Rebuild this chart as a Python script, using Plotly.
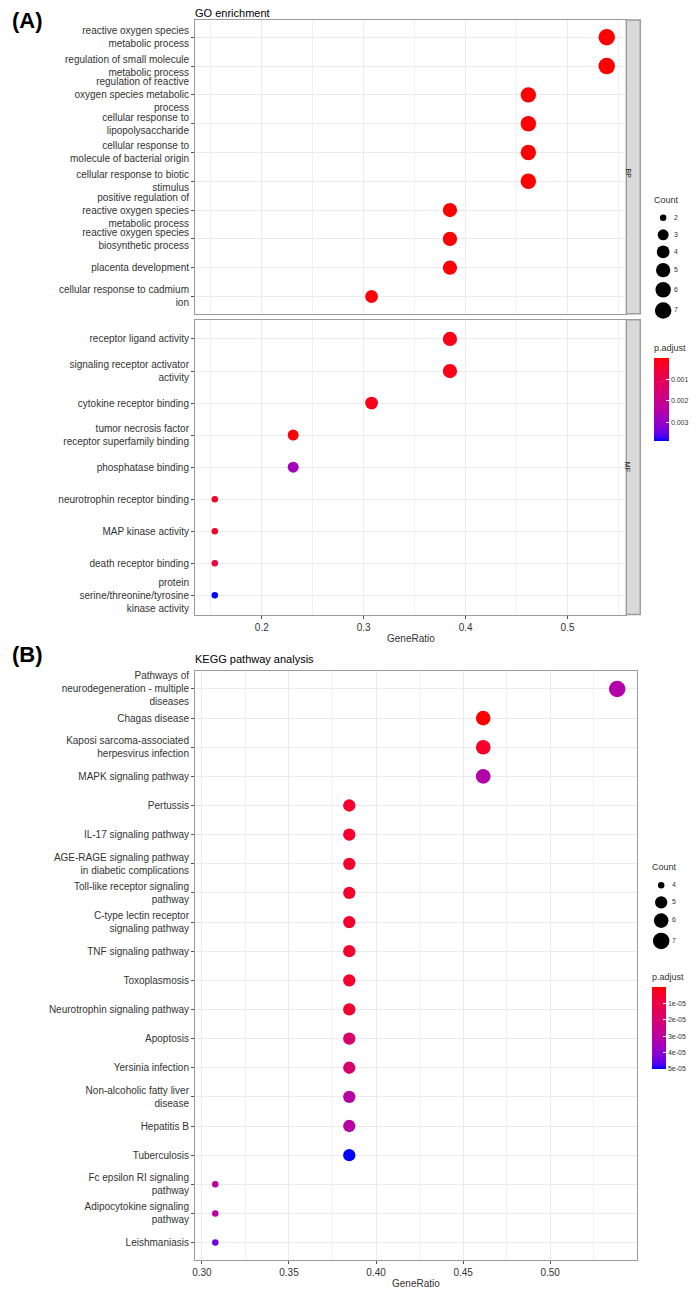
import plotly.graph_objects as go

W, H = 700, 1296          # browser window
OFF = 8                   # default page body margin
FW, FH = W - OFF, H - OFF  # figure size
FONT = "Liberation Sans, Arial, sans-serif"

# ---------------- data ----------------
bp_terms = [
    "reactive oxygen species\nmetabolic process",
    "regulation of small molecule\nmetabolic process",
    "regulation of reactive\noxygen species metabolic\nprocess",
    "cellular response to\nlipopolysaccharide",
    "cellular response to\nmolecule of bacterial origin",
    "cellular response to biotic\nstimulus",
    "positive regulation of\nreactive oxygen species\nmetabolic process",
    "reactive oxygen species\nbiosynthetic process",
    "placenta development",
    "cellular response to cadmium\nion",
]
bp_ratio = [7/13, 7/13, 6/13, 6/13, 6/13, 6/13, 5/13, 5/13, 5/13, 4/13]
bp_count = [7, 7, 6, 6, 6, 6, 5, 5, 5, 4]
bp_padj = [2e-6, 2e-6, 2e-5, 2e-5, 2e-5, 2e-5, 3e-5, 3e-5, 3e-5, 6e-5]

mf_terms = [
    "receptor ligand activity",
    "signaling receptor activator\nactivity",
    "cytokine receptor binding",
    "tumor necrosis factor\nreceptor superfamily binding",
    "phosphatase binding",
    "neurotrophin receptor binding",
    "MAP kinase activity",
    "death receptor binding",
    "protein\nserine/threonine/tyrosine\nkinase activity",
]
mf_ratio = [5/13, 5/13, 4/13, 3/13, 3/13, 2/13, 2/13, 2/13, 2/13]
mf_count = [5, 5, 4, 3, 3, 2, 2, 2, 2]
mf_padj = [2e-4, 2e-4, 2e-4, 6e-5, 2.75e-3, 3.5e-4, 3.5e-4, 6.5e-4, 3.87e-3]

kegg_terms = [
    "Pathways of\nneurodegeneration - multiple\ndiseases",
    "Chagas disease",
    "Kaposi sarcoma-associated\nherpesvirus infection",
    "MAPK signaling pathway",
    "Pertussis",
    "IL-17 signaling pathway",
    "AGE-RAGE signaling pathway\nin diabetic complications",
    "Toll-like receptor signaling\npathway",
    "C-type lectin receptor\nsignaling pathway",
    "TNF signaling pathway",
    "Toxoplasmosis",
    "Neurotrophin signaling pathway",
    "Apoptosis",
    "Yersinia infection",
    "Non-alcoholic fatty liver\ndisease",
    "Hepatitis B",
    "Tuberculosis",
    "Fc epsilon RI signaling\npathway",
    "Adipocytokine signaling\npathway",
    "Leishmaniasis",
]
kegg_ratio = [7/13, 6/13, 6/13, 6/13, 5/13, 5/13, 5/13, 5/13, 5/13, 5/13,
              5/13, 5/13, 5/13, 5/13, 5/13, 5/13, 5/13, 4/13, 4/13, 4/13]
kegg_count = [7, 6, 6, 6, 5, 5, 5, 5, 5, 5, 5, 5, 5, 5, 5, 5, 5, 4, 4, 4]
kegg_padj = [3.2e-5, 2e-7, 5.5e-6, 3.2e-5, 6e-6, 6e-6, 6e-6, 6e-6, 6e-6, 6e-6,
             6.5e-6, 6.5e-6, 1.9e-5, 1.9e-5, 3.1e-5, 3.1e-5, 5.02e-5, 3.0e-5, 3.0e-5, 4.4e-5]

go_xticks = [0.2, 0.3, 0.4, 0.5]
kegg_xticks = [0.30, 0.35, 0.40, 0.45, 0.50]
go_ticks = [0.001, 0.002, 0.003]
go_ticktext = ["0.001", "0.002", "0.003"]
kegg_ticks = [1e-5, 2e-5, 3e-5, 4e-5, 5e-5]
kegg_ticktext = ["1e-05", "2e-05", "3e-05", "4e-05", "5e-05"]


# ---------------- helpers ----------------
def fx(x):
    return (x - OFF) / FW


def fy(y):
    return 1 - (y - OFF) / FH


def _lin(c):
    c = c / 255
    return c / 12.92 if c <= 0.04045 else ((c + 0.055) / 1.055) ** 2.4


def rgb2lab(r, g, b):
    R, G, B = _lin(r), _lin(g), _lin(b)
    X = (0.4124 * R + 0.3576 * G + 0.1805 * B) / 0.95047
    Y = 0.2126 * R + 0.7152 * G + 0.0722 * B
    Z = (0.0193 * R + 0.1192 * G + 0.9505 * B) / 1.08883
    f = lambda t: t ** (1 / 3) if t > 0.008856 else 7.787 * t + 16 / 116
    a, b_, c = f(X), f(Y), f(Z)
    return 116 * b_ - 16, 500 * (a - b_), 200 * (b_ - c)


def lab2rgb(L, a, b):
    fy_ = (L + 16) / 116
    fx_ = fy_ + a / 500
    fz_ = fy_ - b / 200
    finv = lambda t: t ** 3 if t ** 3 > 0.008856 else (t - 16 / 116) / 7.787
    X = finv(fx_) * 0.95047
    Y = finv(fy_)
    Z = finv(fz_) * 1.08883
    R = 3.2406 * X - 1.5372 * Y - 0.4986 * Z
    G = -0.9689 * X + 1.8758 * Y + 0.0415 * Z
    B = 0.0557 * X - 0.2040 * Y + 1.0570 * Z

    def g(c):
        c = max(0.0, min(1.0, c))
        v = 12.92 * c if c <= 0.0031308 else 1.055 * c ** (1 / 2.4) - 0.055
        return int(round(v * 255))

    return g(R), g(G), g(B)


lab_red = rgb2lab(255, 0, 0)
lab_blue = rgb2lab(0, 0, 255)


def grad(t):  # t=0 red, t=1 blue (CIELAB interpolation, like ggplot2)
    L = [lab_red[i] + (lab_blue[i] - lab_red[i]) * t for i in range(3)]
    r, g, b = lab2rgb(*L)
    return f"rgb({r},{g},{b})"


# colour value is -p.adjust so that the bar shows low values (red) on top
colorscale = [[s / 20, grad(1 - s / 20)] for s in range(21)]


def size_fun(counts, dmin=6.5, dmax=16.5):
    lo, hi = min(counts), max(counts)
    return lambda c: dmin + (dmax - dmin) * ((c - lo) / (hi - lo)) ** 0.5


def xrange(vals):
    lo, hi = min(vals), max(vals)
    e = 0.05 * (hi - lo)
    return [lo - e, hi + e]


def minor_vals(ticks):
    step = ticks[1] - ticks[0]
    return [ticks[0] - step / 2] + [t + step / 2 for t in ticks]


def lab(t):
    return t.replace("\n", "<br>")


GRID = "#EBEBEB"
BORDER = "#9c9c9c"
TXT = "#333333"

fig = go.Figure()

go_counts = bp_count + mf_count
sz_go = size_fun(go_counts)
sz_kegg = size_fun(kegg_count)

fig.add_trace(go.Scatter(
    x=bp_ratio, y=[lab(t) for t in bp_terms], mode="markers", xaxis="x", yaxis="y",
    marker=dict(size=[sz_go(c) for c in bp_count], color=[-p for p in bp_padj],
                coloraxis="coloraxis", line=dict(width=0), opacity=1),
    showlegend=False))
fig.add_trace(go.Scatter(
    x=mf_ratio, y=[lab(t) for t in mf_terms], mode="markers", xaxis="x2", yaxis="y2",
    marker=dict(size=[sz_go(c) for c in mf_count], color=[-p for p in mf_padj],
                coloraxis="coloraxis", line=dict(width=0), opacity=1),
    showlegend=False))
fig.add_trace(go.Scatter(
    x=kegg_ratio, y=[lab(t) for t in kegg_terms], mode="markers", xaxis="x3", yaxis="y3",
    marker=dict(size=[sz_kegg(c) for c in kegg_count], color=[-p for p in kegg_padj],
                coloraxis="coloraxis2", line=dict(width=0), opacity=1),
    showlegend=False))


# ---------- size legends (drawn on a page-pixel overlay axis) ----------
def size_legend(counts, sz, x_key, y_first, x_lab):
    levels = list(range(min(counts), max(counts) + 1))
    ys = [y_first]
    for a, b in zip(levels[:-1], levels[1:]):
        ys.append(ys[-1] + max(17, (sz(a) + sz(b)) / 2 + 4.8))
    fig.add_trace(go.Scatter(
        x=[x_key] * len(levels), y=ys, mode="markers", xaxis="x4", yaxis="y4",
        marker=dict(size=[sz(c) for c in levels], color="#000000", opacity=1,
                    line=dict(width=0)),
        showlegend=False, hoverinfo="skip"))
    fig.add_trace(go.Scatter(
        x=[x_lab] * len(levels), y=ys, mode="text", xaxis="x4", yaxis="y4",
        text=[str(c) for c in levels], textposition="middle right",
        textfont=dict(size=7, color=TXT, family=FONT),
        showlegend=False, hoverinfo="skip"))


size_legend(go_counts, sz_go, 663, 217, 674)
size_legend(kegg_count, sz_kegg, 661, 885, 672)


def xaxis(dom, rng, ticks, fmt, anchor, labels, match=None):
    d = dict(domain=[fx(dom[0]), fx(dom[1])], range=rng, anchor=anchor,
             tickmode="array", tickvals=ticks, tickformat=fmt,
             showgrid=True, gridcolor=GRID,
             gridwidth=1, zeroline=False, showline=True, mirror=True,
             linecolor=BORDER, linewidth=1.4,
             minor=dict(tickmode="array", tickvals=minor_vals(ticks), showgrid=True,
                        gridcolor="#F2F2F2", gridwidth=1, ticks=""),
             tickfont=dict(size=10, color=TXT, family=FONT),
             showticklabels=labels, ticks="outside" if labels else "",
             ticklen=3, tickcolor="#555555", tickwidth=1, fixedrange=True)
    if match:
        d["matches"] = match
    return d


def yaxis(dom, terms, anchor):
    cats = [lab(t) for t in terms][::-1]
    return dict(domain=[fy(dom[1]), fy(dom[0])], anchor=anchor, type="category",
                categoryorder="array", categoryarray=cats,
                range=[-0.6, len(cats) - 0.4], showgrid=True, gridcolor=GRID,
                gridwidth=1.2, zeroline=False, showline=True, mirror=True,
                linecolor=BORDER, linewidth=1.4, ticks="outside", ticklen=3,
                tickcolor="#555555", tickwidth=1,
                tickfont=dict(size=10, color=TXT, family=FONT), fixedrange=True)


xr_go = xrange(bp_ratio + mf_ratio)
xr_kegg = xrange(kegg_ratio)


def cbar(p, ticks, ticktext, x, ytop, length, thick):
    return dict(
        colorscale=colorscale, cmin=-max(p), cmax=-min(p), showscale=True,
        colorbar=dict(
            x=fx(x), xanchor="left", y=fy(ytop), yanchor="top",
            len=length, lenmode="pixels", thickness=thick, thicknessmode="pixels",
            xpad=0, ypad=0, outlinewidth=0,
            tickvals=[-t for t in ticks], ticktext=ticktext,
            ticks="inside", tickcolor="white", ticklen=3, tickwidth=1,
            tickfont=dict(size=7, color=TXT, family=FONT), title=dict(text="")))


fig.update_layout(
    width=FW, height=FH, margin=dict(l=0, r=0, t=0, b=0),
    paper_bgcolor="white", plot_bgcolor="rgba(0,0,0,0)",
    font=dict(family=FONT, color=TXT),
    xaxis=xaxis((193, 626), xr_go, go_xticks, ".1f", "y", False),
    yaxis=yaxis((19, 313), bp_terms, "x"),
    xaxis2=xaxis((193, 626), xr_go, go_xticks, ".1f", "y2", True, match="x"),
    yaxis2=yaxis((319, 614), mf_terms, "x2"),
    xaxis3=xaxis((193, 637), xr_kegg, kegg_xticks, ".2f", "y3", True),
    yaxis3=yaxis((671, 1260), kegg_terms, "x3"),
    xaxis4=dict(domain=[0, 1], range=[OFF, W], visible=False, anchor="y4", fixedrange=True),
    yaxis4=dict(domain=[0, 1], range=[H, OFF], visible=False, anchor="x4", fixedrange=True),
    coloraxis=cbar(bp_padj + mf_padj, go_ticks, go_ticktext, 654, 357, 83, 15),
    coloraxis2=cbar(kegg_padj, kegg_ticks, kegg_ticktext, 652, 987, 82, 14),
)

# facet strips
shapes = []
annotations = []
for (y0, y1, name) in [(19, 313, "BP"), (319, 614, "MF")]:
    shapes.append(dict(type="rect", xref="paper", yref="paper",
                       x0=fx(626), x1=fx(640), y0=fy(y1), y1=fy(y0),
                       fillcolor="#D9D9D9", line=dict(color=BORDER, width=1.4), layer="above"))
    annotations.append(dict(text=name, xref="paper", yref="paper", x=fx(633.5),
                            y=fy((y0 + y1) / 2), showarrow=False, textangle=90,
                            font=dict(size=7, color="#1a1a1a", family=FONT)))


def text(t, x, y, size, xanchor="left", yanchor="middle", bold=False, color="black"):
    annotations.append(dict(text=f"<b>{t}</b>" if bold else t, xref="paper", yref="paper",
                            x=fx(x), y=fy(y), xanchor=xanchor, yanchor=yanchor,
                            showarrow=False, borderpad=0,
                            font=dict(size=size, color=color, family=FONT)))


text("(A)", OFF, 20, 22, bold=True)
text("(B)", OFF, 654, 22, bold=True)
text("GO enrichment", 192, 19, 11, yanchor="bottom")
text("KEGG pathway analysis", 192, 659, 11)
text("GeneRatio", 409.5, 638, 10, xanchor="center", color=TXT)
text("GeneRatio", 415, 1283, 10, xanchor="center", color=TXT)
text("Count", 653, 199, 9, color=TXT)
text("p.adjust", 653, 347, 9, color=TXT)
text("Count", 651, 867, 9, color=TXT)
text("p.adjust", 651, 977, 9, color=TXT)

fig.update_layout(shapes=shapes, annotations=annotations)
fig.write_html("out.html")
